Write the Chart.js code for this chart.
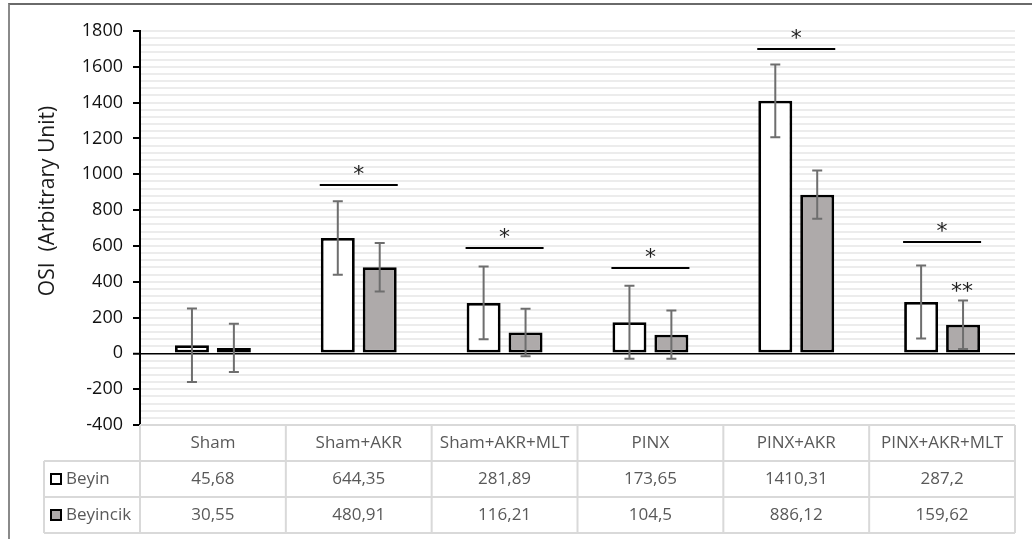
<!DOCTYPE html>
<html>
<head>
<meta charset="utf-8">
<script src="https://cdn.jsdelivr.net/npm/chart.js@4"></script>
<style>
  html, body { margin: 0; padding: 0; background: #fff; }
  #wrap { position: relative; width: 1032px; height: 542px; }
  #frame { position: absolute; left: 8px; top: 3px; width: 1030px; height: 534px;
           border-left: 2px solid #8a8a8a; border-top: 2px solid #6a6a6a; }
  canvas { position: absolute; left: 0; top: 0; }
</style>
</head>
<body>
<div id="wrap">
  <div id="frame"></div>
  <canvas id="osiChart" width="1032" height="542"></canvas>
</div>
<script>
// groups and OSI means per tissue
const categories = ['Sham', 'Sham+AKR', 'Sham+AKR+MLT', 'PINX', 'PINX+AKR', 'PINX+AKR+MLT'];
const beyin = [45.68, 644.35, 281.89, 173.65, 1410.31, 287.2];
const beyincik = [30.55, 480.91, 116.21, 104.5, 886.12, 159.62];

// error bar half-widths
const beyinErr = [205, 205, 203, 204, 203, 204];
const beyincikErr = [135, 135, 133, 135, 135, 135];

// significance brackets (bracket height per group, null = none)
const sigLevels = [null, 940, 590, 475, 1700, 620];
// extra marker above the Beyincik bar of the last group
const extraMarks = [{ group: 5, dataset: 1, value: 370, text: '**' }];

// y axis range
const yMin = -400;
const yMax = 1800;
const yMajor = 200;
const yMinor = 40;

const FONT = '"Open Sans", "Noto Sans", sans-serif';
const GREY = '#aeaaaa';

const fmt = v => String(v).replace('.', ',');

// error bars, significance lines, axis title and the data table
const extrasPlugin = {
  id: 'extras',
  afterDatasetsDraw(chart) {
    const ctx = chart.ctx;
    const y = chart.scales.y;
    const errs = [beyinErr, beyincikErr];
    const vals = [beyin, beyincik];

    ctx.save();
    // error bars
    ctx.strokeStyle = '#6e6e6e';
    ctx.lineWidth = 2;
    [0, 1].forEach(d => {
      chart.getDatasetMeta(d).data.forEach((bar, i) => {
        const top = y.getPixelForValue(vals[d][i] + errs[d][i]);
        const bot = y.getPixelForValue(vals[d][i] - errs[d][i]);
        ctx.beginPath();
        ctx.moveTo(bar.x, top); ctx.lineTo(bar.x, bot);
        ctx.moveTo(bar.x - 5, top); ctx.lineTo(bar.x + 5, top);
        ctx.moveTo(bar.x - 5, bot); ctx.lineTo(bar.x + 5, bot);
        ctx.stroke();
      });
    });

    // significance lines with a star
    const catW = (chart.chartArea.right - chart.chartArea.left) / categories.length;
    ctx.strokeStyle = '#000';
    ctx.fillStyle = '#222';
    ctx.font = '22px "DejaVu Sans", sans-serif';
    ctx.textAlign = 'center';
    ctx.textBaseline = 'middle';
    sigLevels.forEach((lv, i) => {
      if (lv === null) return;
      const cx = chart.chartArea.left + catW * (i + 0.5);
      const py = Math.round(y.getPixelForValue(lv));
      ctx.lineWidth = 2;
      ctx.beginPath();
      ctx.moveTo(cx - 39, py); ctx.lineTo(cx + 39, py);
      ctx.stroke();
      ctx.fillText('*', cx, py - 10);
    });
    extraMarks.forEach(m => {
      const bar = chart.getDatasetMeta(m.dataset).data[m.group];
      ctx.fillText(m.text, bar.x - 1, y.getPixelForValue(m.value) + 5);
    });
    ctx.restore();
  },
  afterDraw(chart) {
    const ctx = chart.ctx;
    const area = chart.chartArea;
    const catW = (area.right - area.left) / categories.length;
    const rows = [area.bottom, area.bottom + 36, area.bottom + 72, area.bottom + 108];
    const legendLeft = 44;

    ctx.save();
    // axis title
    ctx.translate(48, 201);
    ctx.rotate(-Math.PI / 2);
    ctx.font = '21px ' + FONT;
    ctx.fillStyle = '#1a1a1a';
    ctx.textAlign = 'center';
    ctx.textBaseline = 'middle';
    ctx.fillText('OSI  (Arbitrary Unit)', 0, 0);
    ctx.restore();

    ctx.save();
    ctx.strokeStyle = '#d9d9d9';
    ctx.lineWidth = 2;
    ctx.beginPath();
    // horizontal rules
    ctx.moveTo(area.left, rows[0]); ctx.lineTo(area.right, rows[0]);
    for (let r = 1; r < rows.length; r++) {
      ctx.moveTo(legendLeft, rows[r]); ctx.lineTo(area.right, rows[r]);
    }
    // vertical rules
    ctx.moveTo(legendLeft, rows[1]); ctx.lineTo(legendLeft, rows[3]);
    for (let c = 0; c <= categories.length; c++) {
      const x = area.left + catW * c;
      ctx.moveTo(x, rows[0]); ctx.lineTo(x, rows[3]);
    }
    ctx.stroke();

    ctx.font = '17px ' + FONT;
    ctx.fillStyle = '#595959';
    ctx.textAlign = 'center';
    ctx.textBaseline = 'middle';
    categories.forEach((cat, i) => {
      const cx = area.left + catW * (i + 0.5);
      ctx.fillText(cat, cx, (rows[0] + rows[1]) / 2);
      ctx.fillText(fmt(beyin[i]), cx, (rows[1] + rows[2]) / 2);
      ctx.fillText(fmt(beyincik[i]), cx, (rows[2] + rows[3]) / 2);
    });

    // legend keys in the first column
    const series = [['Beyin', '#ffffff'], ['Beyincik', GREY]];
    ctx.textAlign = 'left';
    series.forEach((s, k) => {
      const cy = (rows[k + 1] + rows[k + 2]) / 2;
      ctx.fillStyle = s[1];
      ctx.fillRect(51, cy - 5, 10, 10);
      ctx.strokeStyle = '#000';
      ctx.lineWidth = 2;
      ctx.strokeRect(51, cy - 5, 10, 10);
      ctx.fillStyle = '#595959';
      ctx.fillText(s[0], 66, cy);
    });
    ctx.restore();
  }
};

new Chart(document.getElementById('osiChart'), {
  type: 'bar',
  data: {
    labels: categories,
    datasets: [
      { label: 'Beyin', data: beyin, backgroundColor: '#ffffff', borderColor: '#000', borderWidth: 2.8, borderSkipped: false },
      { label: 'Beyincik', data: beyincik, backgroundColor: GREY, borderColor: '#000', borderWidth: 2.8, borderSkipped: false }
    ]
  },
  options: {
    responsive: false,
    animation: false,
    categoryPercentage: 0.575,
    barPercentage: 0.81,
    layout: { padding: { left: 0, top: 31, right: 17, bottom: 117 } },
    plugins: { legend: { display: false }, tooltip: { enabled: false } },
    scales: {
      x: { display: false },
      y: {
        min: yMin,
        max: yMax,
        afterFit(scale) { scale.width = 140; },
        border: { display: true, color: '#000', width: 2 },
        grid: {
          color: c => (c.tick && c.tick.value === 0) ? '#000' : '#ececec',
          lineWidth: c => (c.tick && c.tick.value === 0) ? 1.5 : 2,
          tickColor: c => (c.tick && c.tick.value % yMajor === 0) ? '#000' : 'rgba(0,0,0,0)',
          tickLength: 7,
          tickWidth: 2
        },
        ticks: {
          stepSize: yMinor,
          autoSkip: false,
          maxTicksLimit: 100,
          padding: 10,
          color: '#111',
          font: { family: FONT, size: 18 },
          callback: v => (v % yMajor === 0 ? v : '')
        }
      }
    }
  },
  plugins: [extrasPlugin]
});
</script>
</body>
</html>
